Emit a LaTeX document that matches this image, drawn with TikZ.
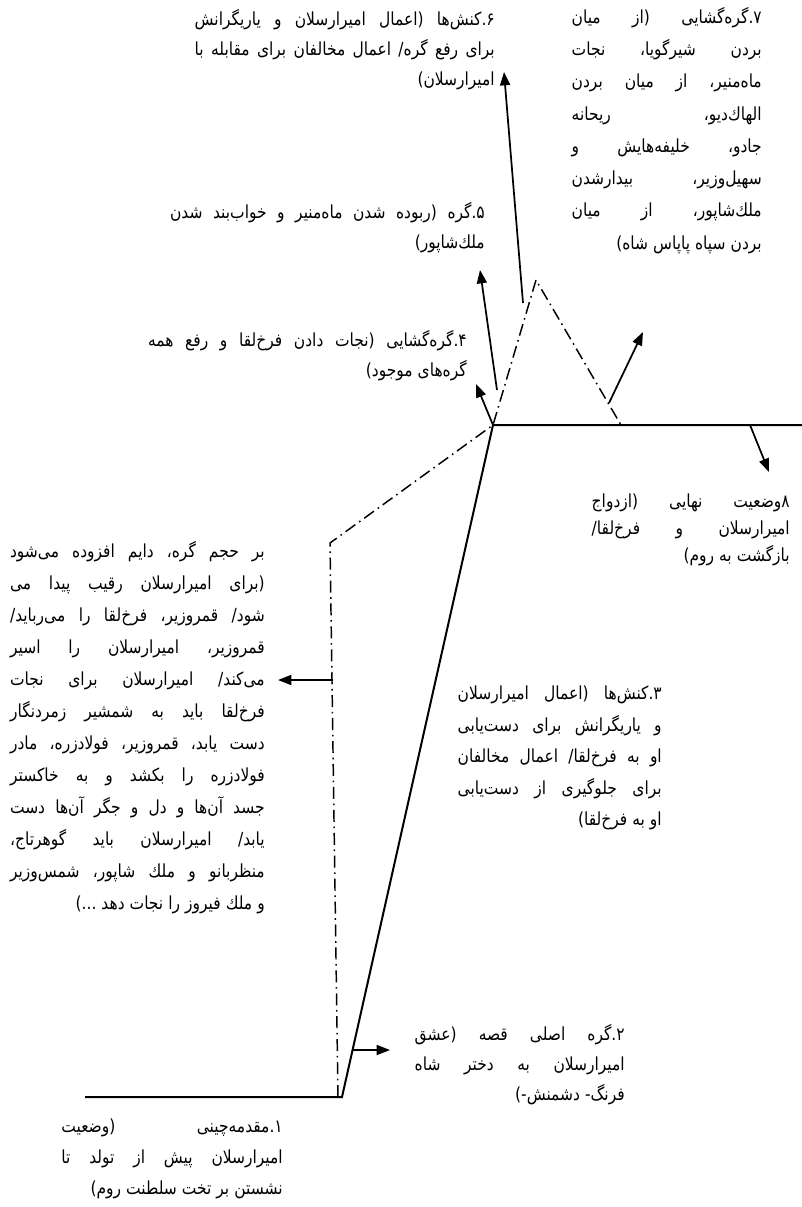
\documentclass[tikz,border=0pt]{standalone}
\usepackage{fontspec}
\usepackage{tikz}
\usetikzlibrary{arrows.meta}
\newfontfamily\fafont[Script=Arabic,FakeStretch=0.86]{DejaVu Sans}
\TeXXeTstate=1
\makeatletter
% words of a line, set apart by stretchable gaps
\def\rj@gap{\hskip .28em plus 1fil minus .1em\relax}
\def\rj@loop#1 #2\rj@stop{#1\if\relax\detokenize{#2}\relax\else\rj@gap\rj@loop#2\rj@stop\fi}
% one right-to-left line: justified, or flush right for the last one
\newcommand{\rjline}[1]{\hbox to\hsize{\hskip 0pt minus 1fill\beginR\rj@loop#1 \rj@stop\endR}}
\newcommand{\rlast}[1]{\hbox to\hsize{\hskip 0pt plus 1fill minus 1fill\beginR\spaceskip=.28em\relax #1\endR}}
\makeatother
\tikzset{
  plotln/.style={line width=1.5pt,line join=miter},
  subln/.style={line width=1.1pt,dash pattern=on 9pt off 3.5pt on 1.2pt off 3.5pt},
  arr/.style={-{Triangle[length=10pt,width=7.5pt]},line width=1.3pt},
  stage/.style={font=\fafont\fontsize{13.5}{#1}\selectfont,inner sep=0pt,anchor=north east},
  stage/.default=22.5pt,
}

\begin{document}
\begin{tikzpicture}[x=0.75pt,y=-0.75pt]
  \useasboundingbox (0,0) rectangle (802,1207);
  % main plot line
  \coordinate (expo) at (85,1097);
  \coordinate (incit) at (342,1097);
  \coordinate (climax) at (493,425);
  \coordinate (resol) at (802,425);
  \draw[plotln] (expo) -- (incit) -- (climax) -- (resol);
  % sub plot, dash-dot
  \coordinate (sub1) at (338,1097);
  \coordinate (sub2) at (330,543);
  \coordinate (sub3) at (536,280);
  \coordinate (sub4) at (621,425);
  \draw[subln] (sub1) -- (sub2) -- (climax) -- (sub3) -- (sub4);
  % arrows to the stages
  \foreach \n/\tx/\ty/\hx/\hy in {2/352/1050/390/1050, l/333/680/278/680,
      4/493/425/476/384, 5/497/390/480/270, 6/523/303/504/72,
      7/609/403/643/332, 8/750/425/769/472}{
    \coordinate (t\n) at (\tx,\ty);
    \coordinate (h\n) at (\hx,\hy);
    \draw[arr] (t\n) -- (h\n);}
  % stage texts
  \node[stage,text width=225pt] (st6) at (495,9) {%
    \rjline{۶.کنش‌ها (اعمال امیرارسلان و یاریگرانش}
    \rjline{برای رفع گره/ اعمال مخالفان برای مقابله با}
    \rlast{امیرارسلان)}};
  \node[stage=24.2pt,text width=142.5pt] (st7) at (762,7) {%
    \rjline{۷.گره‌گشایی (از میان}
    \rjline{بردن شیرگویا، نجات}
    \rjline{ماه‌منیر، از میان بردن}
    \rjline{الهاك‌دیو، ریحانه}
    \rjline{جادو، خلیفه‌هایش و}
    \rjline{سهیل‌وزیر، بیدارشدن}
    \rjline{ملك‌شاپور، از میان}
    \rlast{بردن سپاه پاپاس شاه)}};
  \node[stage,text width=236pt] (st5) at (485,202) {%
    \rjline{۵.گره (ربوده شدن ماه‌منیر و خواب‌بند شدن}
    \rlast{ملك‌شاپور)}};
  \node[stage,text width=239pt] (st4) at (467,330) {%
    \rjline{۴.گره‌گشایی (نجات دادن فرخ‌لقا و رفع همه}
    \rlast{گره‌های موجود)}};
  \node[stage=20pt,text width=148.5pt] (st8) at (790,494) {%
    \rjline{۸وضعیت نهایی (ازدواج}
    \rjline{امیرارسلان و فرخ‌لقا/}
    \rlast{بازگشت به روم)}};
  \node[stage=24pt,text width=191pt] (stsub) at (265,541) {%
    \rjline{بر حجم گره، دایم افزوده می‌شود}
    \rjline{(برای امیرارسلان رقیب پیدا می}
    \rjline{شود/ قمروزیر، فرخ‌لقا را می‌رباید/}
    \rjline{قمروزیر، امیرارسلان را اسیر}
    \rjline{می‌کند/ امیرارسلان برای نجات}
    \rjline{فرخ‌لقا باید به شمشیر زمردنگار}
    \rjline{دست یابد، قمروزیر، فولادزره، مادر}
    \rjline{فولادزره را بکشد و به خاکستر}
    \rjline{جسد آن‌ها و دل و جگر آن‌ها دست}
    \rjline{یابد/ امیرارسلان باید گوهرتاج،}
    \rjline{منظربانو و ملك شاپور، شمس‌وزیر}
    \rlast{و ملك فیروز را نجات دهد ‏...)}};
  \node[stage=23.6pt,text width=153pt] (st3) at (662,686) {%
    \rjline{۳.کنش‌ها (اعمال امیرارسلان}
    \rjline{و یاریگرانش برای دست‌یابی}
    \rjline{او به فرخ‌لقا/ اعمال مخالفان}
    \rjline{برای جلوگیری از دست‌یابی}
    \rlast{او به فرخ‌لقا)}};
  \node[stage,text width=157.5pt] (st2) at (625,1024) {%
    \rjline{۲.گره اصلی قصه (عشق}
    \rjline{امیرارسلان به دختر شاه}
    \rlast{فرنگ- دشمنش-)}};
  \node[stage=23.2pt,text width=166pt] (st1) at (283,1119) {%
    \rjline{۱.مقدمه‌چینی (وضعیت}
    \rjline{امیرارسلان پیش از تولد تا}
    \rlast{نشستن بر تخت سلطنت روم)}};
\end{tikzpicture}
\end{document}
